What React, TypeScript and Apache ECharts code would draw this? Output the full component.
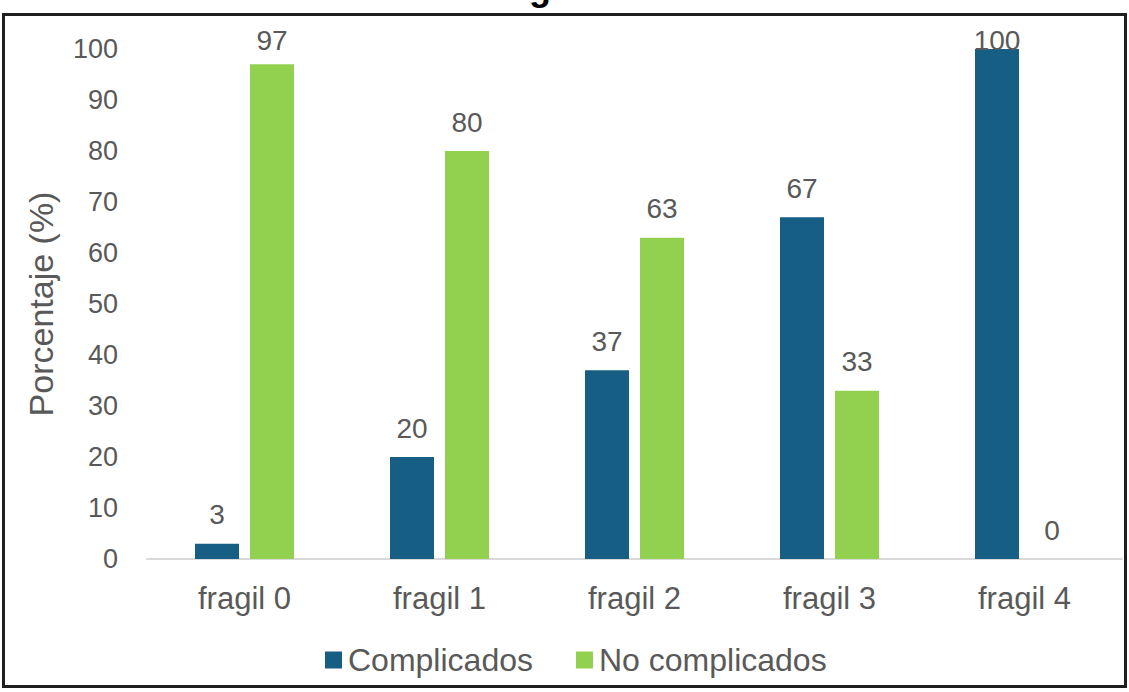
import React, { useEffect, useRef } from "react";
import * as echarts from "echarts";

const categories = ["fragil 0", "fragil 1", "fragil 2", "fragil 3", "fragil 4"];
const complicados = [3, 20, 37, 67, 100];
const noComplicados = [97, 80, 63, 33, 0];
const yTicks = { min: 0, max: 100, interval: 10 };
const seriesNames = ["Complicados", "No complicados"];
const titleText = "Fragilidad";

const FONT = "'Liberation Sans', Arial, Helvetica, sans-serif";
const GRAY = "#595959";

export default function App() {
  const ref = useRef<HTMLDivElement>(null);
  useEffect(() => {
    if (!ref.current) return;
    const chart = echarts.init(ref.current, null, { renderer: "svg" });
    const labelFor = (v: number) => {
      // keep labels inside the plot area near the top, like the original
      const top = 49 + (100 - v) * 5.1;
      const normal = top - 29;
      const off = normal < 40 ? 40 - normal : 0;
      return off > 0 ? { offset: [0, off] } : {};
    };
    chart.setOption({
      animation: false,
      textStyle: { fontFamily: FONT },
      grid: { left: 147, right: 7, top: 49, bottom: 133, containLabel: false },
      legend: {
        left: 320,
        top: 639,
        itemWidth: 17,
        itemHeight: 17,
        itemGap: 43,
        icon: "rect",
        textStyle: { fontSize: 32, color: GRAY, fontFamily: FONT, padding: [0, 0, 0, 1] },
        data: seriesNames,
      },
      xAxis: {
        type: "category",
        data: categories,
        axisLine: { show: true, lineStyle: { color: "#D9D9D9", width: 2 } },
        axisTick: { show: false },
        axisLabel: { color: GRAY, fontSize: 31, margin: 24, fontFamily: FONT },
        splitLine: { show: false },
      },
      yAxis: {
        type: "value",
        min: yTicks.min,
        max: yTicks.max,
        interval: yTicks.interval,
        name: "Porcentaje (%)",
        nameLocation: "middle",
        nameGap: 89,
        nameTextStyle: { color: GRAY, fontSize: 34, fontFamily: FONT },
        axisLine: { show: false },
        axisTick: { show: false },
        splitLine: { show: false },
        axisLabel: { color: GRAY, fontSize: 27, margin: 29, fontFamily: FONT },
      },
      series: [
        {
          name: seriesNames[0],
          type: "bar",
          barWidth: 44,
          barGap: "25%",
          itemStyle: { color: "#165E83" },
          label: { show: true, position: "top", distance: 15, color: GRAY, fontSize: 28, fontFamily: FONT },
          data: complicados.map((v) => ({ value: v, label: labelFor(v) })),
        },
        {
          name: seriesNames[1],
          type: "bar",
          barWidth: 44,
          barGap: "25%",
          itemStyle: { color: "#92D050" },
          label: { show: true, position: "top", distance: 15, color: GRAY, fontSize: 28, fontFamily: FONT },
          data: noComplicados.map((v) => ({ value: v, label: labelFor(v) })),
        },
      ],
      graphic: [
        {
          type: "rect",
          shape: { x: 3.5, y: 14.5, width: 1122, height: 672 },
          style: { fill: "none", stroke: "#1F1F1F", lineWidth: 3 },
          silent: true,
        },
        {
          type: "text",
          left: 473,
          top: -31,
          style: {
            text: titleText,
            fontSize: 36,
            fontWeight: "bold",
            fill: "#000000",
            fontFamily: FONT,
          },
          silent: true,
        },
      ],
    });
    return () => chart.dispose();
  }, []);
  return (
    <div
      ref={ref}
      style={{ position: "fixed", left: 0, top: 0, width: 1129, height: 692, background: "#ffffff" }}
    />
  );
}
